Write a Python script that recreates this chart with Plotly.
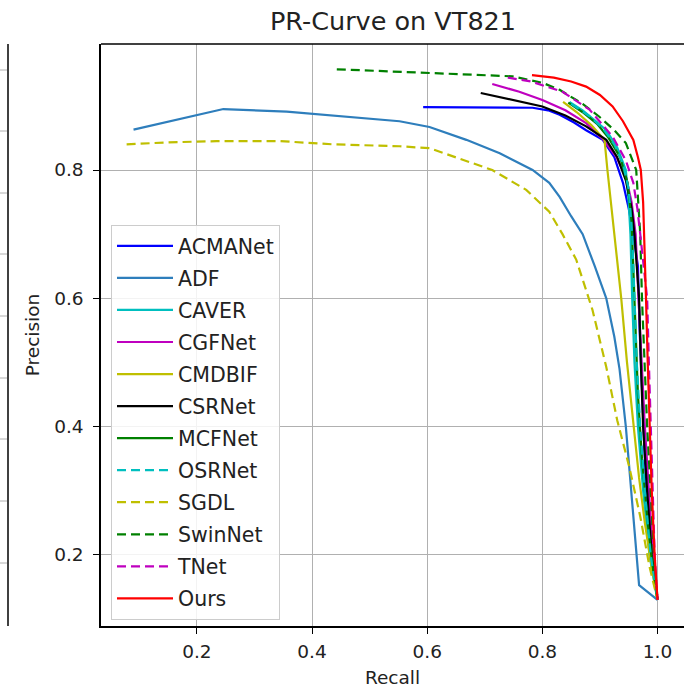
import plotly.graph_objects as go

# ---------------- data ----------------
methods = ["ACMANet", "ADF", "CAVER", "CGFNet", "CMDBIF", "CSRNet",
           "MCFNet", "OSRNet", "SGDL", "SwinNet", "TNet", "Ours"]

acmanet_r = [0.593, 0.700, 0.783, 0.810, 0.830, 0.855, 0.876, 0.905, 0.925, 0.940, 0.950, 0.958, 0.966, 0.969, 0.973, 0.978, 0.984, 0.991, 1.0]
acmanet_p = [0.898, 0.897, 0.897, 0.893, 0.886, 0.874, 0.862, 0.847, 0.820, 0.780, 0.740, 0.700, 0.650, 0.550, 0.450, 0.350, 0.250, 0.180, 0.13]

adf_r = [0.090, 0.246, 0.356, 0.465, 0.552, 0.604, 0.668, 0.726, 0.783, 0.812, 0.830, 0.850, 0.870, 0.891, 0.911, 0.925, 0.934, 0.945, 0.951, 0.960, 0.968, 1.0]
adf_p = [0.863, 0.895, 0.891, 0.883, 0.876, 0.867, 0.847, 0.826, 0.800, 0.780, 0.758, 0.728, 0.700, 0.650, 0.600, 0.540, 0.490, 0.400, 0.337, 0.240, 0.153, 0.13]

caver_r = [0.847, 0.870, 0.890, 0.911, 0.930, 0.945, 0.950, 0.953, 0.956, 0.960, 0.966, 0.975, 0.986, 1.0]
caver_p = [0.906, 0.893, 0.878, 0.862, 0.835, 0.800, 0.750, 0.700, 0.600, 0.500, 0.400, 0.300, 0.200, 0.13]

cgfnet_r = [0.713, 0.760, 0.800, 0.840, 0.876, 0.905, 0.928, 0.945, 0.955, 0.962, 0.967, 0.972, 0.978, 0.985, 0.992, 1.0]
cgfnet_p = [0.934, 0.922, 0.909, 0.893, 0.873, 0.848, 0.821, 0.790, 0.750, 0.700, 0.600, 0.500, 0.400, 0.300, 0.200, 0.13]

cmdbif_r = [0.836, 0.860, 0.885, 0.908, 0.913, 0.925, 0.937, 0.947, 0.958, 0.968, 0.978, 0.990, 1.0]
cmdbif_p = [0.906, 0.890, 0.870, 0.847, 0.800, 0.700, 0.600, 0.500, 0.400, 0.320, 0.250, 0.180, 0.13]

csrnet_r = [0.693, 0.750, 0.800, 0.840, 0.876, 0.911, 0.930, 0.945, 0.955, 0.960, 0.968, 0.971, 0.975, 0.982, 0.990, 1.0]
csrnet_p = [0.920, 0.909, 0.899, 0.885, 0.868, 0.847, 0.820, 0.784, 0.740, 0.700, 0.600, 0.500, 0.400, 0.300, 0.200, 0.13]

mcfnet_r = [0.845, 0.870, 0.895, 0.915, 0.935, 0.948, 0.955, 0.958, 0.961, 0.966, 0.973, 0.983, 0.992, 1.0]
mcfnet_p = [0.905, 0.890, 0.872, 0.850, 0.820, 0.780, 0.720, 0.650, 0.550, 0.450, 0.350, 0.250, 0.180, 0.13]

osrnet_r = [0.850, 0.880, 0.905, 0.925, 0.940, 0.950, 0.956, 0.960, 0.964, 0.970, 0.978, 0.988, 1.0]
osrnet_p = [0.903, 0.885, 0.865, 0.840, 0.810, 0.770, 0.700, 0.600, 0.500, 0.400, 0.300, 0.200, 0.13]

sgdl_r = [0.078, 0.147, 0.234, 0.344, 0.436, 0.552, 0.604, 0.656, 0.713, 0.772, 0.812, 0.835, 0.859, 0.887, 0.911, 0.930, 0.951, 0.970, 0.986, 0.997, 1.0]
sgdl_p = [0.840, 0.843, 0.845, 0.845, 0.840, 0.837, 0.834, 0.818, 0.800, 0.769, 0.735, 0.700, 0.660, 0.582, 0.493, 0.410, 0.337, 0.260, 0.182, 0.141, 0.13]

swinnet_r = [0.443, 0.500, 0.552, 0.604, 0.680, 0.748, 0.800, 0.830, 0.870, 0.899, 0.925, 0.945, 0.963, 0.967, 0.970, 0.973, 0.977, 0.982, 0.988, 0.994, 1.0]
swinnet_p = [0.957, 0.955, 0.953, 0.952, 0.949, 0.946, 0.936, 0.925, 0.903, 0.883, 0.862, 0.842, 0.800, 0.750, 0.700, 0.600, 0.500, 0.400, 0.300, 0.200, 0.13]

tnet_r = [0.740, 0.780, 0.835, 0.882, 0.922, 0.945, 0.958, 0.965, 0.970, 0.976, 0.982, 0.985, 0.988, 0.991, 0.995, 1.0]
tnet_p = [0.944, 0.938, 0.922, 0.894, 0.852, 0.815, 0.780, 0.740, 0.700, 0.650, 0.600, 0.500, 0.400, 0.300, 0.200, 0.13]

ours_r = [0.782, 0.820, 0.850, 0.876, 0.900, 0.922, 0.940, 0.958, 0.966, 0.971, 0.975, 0.977, 0.980, 0.983, 0.986, 0.990, 0.995, 1.0]
ours_p = [0.948, 0.944, 0.938, 0.930, 0.917, 0.899, 0.876, 0.847, 0.820, 0.800, 0.750, 0.700, 0.600, 0.500, 0.400, 0.300, 0.200, 0.13]

x_ticks = [0.2, 0.4, 0.6, 0.8, 1.0]
x_tick_labels = ["0.2", "0.4", "0.6", "0.8", "1.0"]
y_ticks = [0.2, 0.4, 0.6, 0.8]
y_tick_labels = ["0.2", "0.4", "0.6", "0.8"]

# ---------------- styles ----------------
series = [
    (acmanet_r, acmanet_p, "#0000ff", "solid"),
    (adf_r, adf_p, "#2e7ebc", "solid"),
    (caver_r, caver_p, "#00bfbf", "solid"),
    (cgfnet_r, cgfnet_p, "#bf00bf", "solid"),
    (cmdbif_r, cmdbif_p, "#bfbf00", "solid"),
    (csrnet_r, csrnet_p, "#000000", "solid"),
    (mcfnet_r, mcfnet_p, "#008000", "solid"),
    (osrnet_r, osrnet_p, "#00bfbf", "9px,5px"),
    (sgdl_r, sgdl_p, "#bfbf00", "9px,5px"),
    (swinnet_r, swinnet_p, "#008000", "9px,5px"),
    (tnet_r, tnet_p, "#bf00bf", "9px,5px"),
    (ours_r, ours_p, "#ff0000", "solid"),
]

W, H = 684, 692
L, R, T, B = 101, 0, 44, 66
PW, PH = W - L - R, H - T - B

def px_x(p):
    return (p - L) / PW

def px_y(p):
    return (H - B - p) / PH

FONT = "DejaVu Sans"
fig = go.Figure()
for name, (r, p, col, dash) in zip(methods, series):
    fig.add_trace(go.Scatter(
        x=r, y=p, mode="lines", name=name, legendgroup=name,
        line=dict(color=col, width=2.2, dash=dash),
    ))

shapes = []
# top frame line
shapes.append(dict(type="line", xref="paper", yref="paper", x0=0, x1=1.01, y0=1, y1=1,
                   line=dict(color="black", width=1.5)))
# remnant of the neighbouring subplot on the left
shapes.append(dict(type="line", xref="paper", yref="paper", x0=px_x(8), x1=px_x(8), y0=0, y1=1,
                   line=dict(color="black", width=1.5)))
for gy in [70, 131, 193, 254, 316, 378, 439, 501, 563]:
    shapes.append(dict(type="line", xref="paper", yref="paper", x0=px_x(-2), x1=px_x(7), y0=px_y(gy), y1=px_y(gy),
                       line=dict(color="#b0b0b0", width=1)))

fig.update_layout(
    width=W, height=H,
    margin=dict(l=L, r=R, t=T, b=B, pad=0),
    paper_bgcolor="white", plot_bgcolor="white",
    font=dict(family=FONT, color="#262626"),
    title=dict(text="PR-Curve on VT821", x=393 / W, xref="container", xanchor="center",
               y=1 - 21 / H, yanchor="middle", yref="container",
               font=dict(size=25.5, family=FONT, color="#222222")),
    showlegend=True,
    legend=dict(x=px_x(111), y=px_y(225), xanchor="left", yanchor="top",
                bgcolor="rgba(255,255,255,0.85)", bordercolor="#cccccc", borderwidth=1,
                font=dict(size=20.5, family=FONT, color="#222222"),
                tracegroupgap=2.4, itemwidth=56),
    shapes=shapes,
)
fig.update_xaxes(range=[0.0335, 1.046], tickvals=x_ticks, ticktext=x_tick_labels,
                 showgrid=True, gridcolor="#b0b0b0", gridwidth=1, zeroline=False,
                 showline=True, linecolor="black", linewidth=1.5, mirror=False,
                 ticks="outside", ticklen=6, tickwidth=1.2, tickcolor="black",
                 ticklabelstandoff=2,
                 tickfont=dict(size=18.5, family=FONT, color="#222222"),
                 title=dict(text="Recall", font=dict(size=18.5, family=FONT, color="#222222"), standoff=10))
fig.update_yaxes(range=[0.0892, 0.9964], tickvals=y_ticks, ticktext=y_tick_labels,
                 showgrid=True, gridcolor="#b0b0b0", gridwidth=1, zeroline=False,
                 showline=True, linecolor="black", linewidth=1.5, mirror=False,
                 ticks="outside", ticklen=6, tickwidth=1.2, tickcolor="black",
                 ticklabelstandoff=6,
                 tickfont=dict(size=18.5, family=FONT, color="#222222"),
                 title=dict(text="Precision", font=dict(size=18.5, family=FONT, color="#222222"), standoff=10))

fig.write_html("out.html", config={"displayModeBar": False},
               post_script="document.body.style.margin='0';document.body.style.overflow='hidden';")
